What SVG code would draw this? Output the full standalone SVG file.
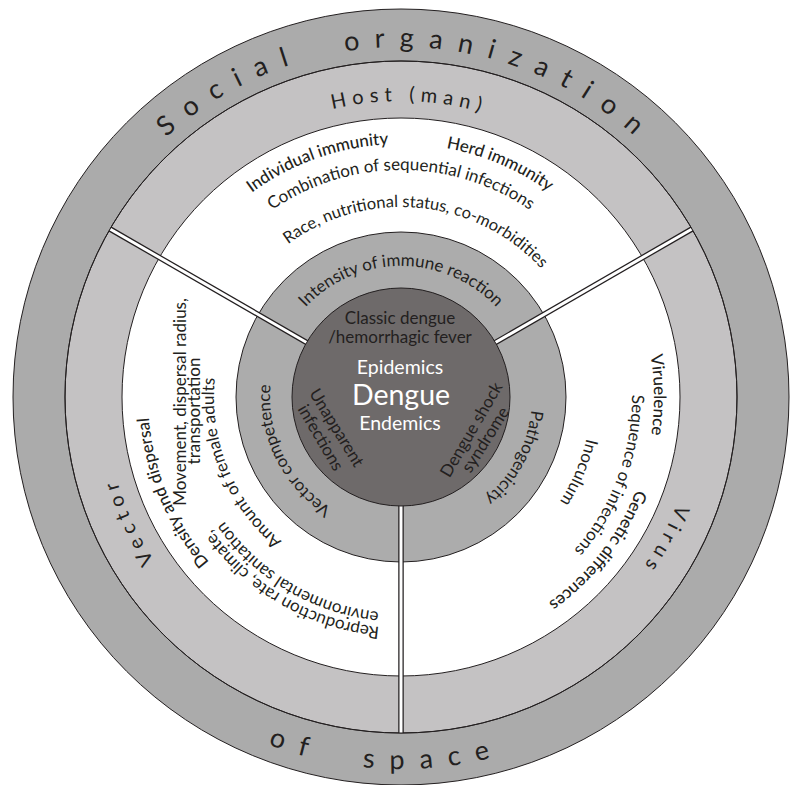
<svg xmlns="http://www.w3.org/2000/svg" width="790" height="785" viewBox="0 0 790 785">
<style>
text{font-family:Lato,"Noto Sans","Liberation Sans",sans-serif;fill:#231f20}
.ring{stroke:#231f20;stroke-width:1}
.big{font-size:27px;letter-spacing:15px;word-spacing:20px}
.lab{font-size:20px;letter-spacing:6px}
.t{font-size:17px}
.med{font-size:17px;font-weight:500}
.m{font-size:17px}
.core{font-size:17px}
.w{fill:#fff}
.bar1{stroke:#231f20;stroke-width:5.5}
.bar2{stroke:#fff;stroke-width:3}
</style>
<defs>
<path id="a350" d="M56.32,336.22 A350,350 0 0 1 745.68,336.22"/>
<path id="a296" d="M109.50,345.60 A296,296 0 0 1 692.50,345.60"/>
<path id="a253" d="M151.84,353.07 A253,253 0 0 1 650.16,353.07"/>
<path id="a231" d="M173.51,356.89 A231,231 0 0 1 628.49,356.89"/>
<path id="a227" d="M177.45,357.58 A227,227 0 0 1 624.55,357.58"/>
<path id="a216" d="M188.28,359.49 A216,216 0 0 1 613.72,359.49"/>
<path id="a190" d="M213.89,364.01 A190,190 0 0 1 588.11,364.01"/>
<path id="a187" d="M216.84,364.53 A187,187 0 0 1 585.16,364.53"/>
<path id="a131" d="M271.99,374.25 A131,131 0 0 1 530.01,374.25"/>
<path id="b372" d="M34.65,461.60 A372,372 0 0 0 767.35,461.60"/>
</defs>

<g id="social-organization">
<circle cx="401" cy="397" r="388" fill="#ababab" class="ring"/>
<text class="big" text-anchor="middle" transform="rotate(1 401 397)"><textPath href="#a350" startOffset="50%">Social organization</textPath></text>
<text class="big" text-anchor="middle" transform="rotate(2.3 401 397)" style="letter-spacing:15.5px"><textPath href="#b372" startOffset="50%">of space</textPath></text>
</g>

<g id="host-vector-virus-ring">
<circle cx="401" cy="397" r="336" fill="#c4c2c3" class="ring"/>
</g>

<g id="factors-ring">
<circle cx="401" cy="397" r="279" fill="#ffffff" class="ring"/>
</g>

<g id="immune-ring">
<circle cx="401" cy="397" r="165" fill="#acacac" class="ring"/>
</g>

<g id="dividers">
<line x1="401" y1="400" x2="401" y2="733" class="bar1"/>
<line x1="401" y1="400" x2="401" y2="733" class="bar2"/>
<line x1="401" y1="397" x2="110.02" y2="229" class="bar1"/>
<line x1="401" y1="397" x2="110.02" y2="229" class="bar2"/>
<line x1="401" y1="397" x2="691.98" y2="229" class="bar1"/>
<line x1="401" y1="397" x2="691.98" y2="229" class="bar2"/>
<circle cx="401" cy="397" r="336" fill="none" class="ring"/>
</g>

<g id="host">
<text class="lab" text-anchor="middle" transform="rotate(1.6 401 397)"><textPath href="#a296" startOffset="50%">Host (man)</textPath></text>
<text class="med" text-anchor="middle" transform="rotate(-19.5 401 397)"><textPath href="#a253" startOffset="50%">Individual immunity</textPath></text>
<text class="med" text-anchor="middle" transform="rotate(23 401 397)"><textPath href="#a253" startOffset="50%">Herd immunity</textPath></text>
<text class="t" text-anchor="middle"><textPath href="#a227" startOffset="50%">Combination of sequential infections</textPath></text>
<text class="t" text-anchor="middle" transform="rotate(5.5 401 397)" style="font-size:16.5px"><textPath href="#a190" startOffset="50%">Race, nutritional status, co-morbidities</textPath></text>
</g>

<g id="vector">
<text class="lab" text-anchor="middle" transform="rotate(245.5 401 397)"><textPath href="#a296" startOffset="50%">Vector</textPath></text>
<text class="med" text-anchor="middle" transform="rotate(247.3 401 397)"><textPath href="#a253" startOffset="50%">Density and dispersal</textPath></text>
<text class="t" text-anchor="middle" transform="translate(181 402) rotate(-90)" y="5">Movement, dispersal radius,</text>
<text class="t" text-anchor="middle" transform="translate(195 411) rotate(-90)" y="5">transportation</text>
<text class="t" text-anchor="middle" transform="rotate(247.7 401 397)"><textPath href="#a187" startOffset="50%">Amount of female adults</textPath></text>
<text class="t" text-anchor="middle" transform="rotate(210.2 401 397)"><textPath href="#a231" startOffset="50%">Reproduction rate, climate,</textPath></text>
<text class="t" text-anchor="middle" transform="rotate(210.4 401 397)"><textPath href="#a216" startOffset="50%">environmental sanitation</textPath></text>
</g>

<g id="virus">
<text class="lab" text-anchor="middle" transform="rotate(118.5 401 397)"><textPath href="#a296" startOffset="50%">Virus</textPath></text>
<text class="med" text-anchor="middle" transform="rotate(89.5 401 397)"><textPath href="#a253" startOffset="50%">Viruelence</textPath></text>
<text class="med" text-anchor="middle" transform="rotate(127.9 401 397)"><textPath href="#a253" startOffset="50%">Genetic differences</textPath></text>
<text class="t" text-anchor="middle" transform="rotate(110.5 401 397)"><textPath href="#a231" startOffset="50%">Sequence of infections</textPath></text>
<text class="t" text-anchor="middle" transform="rotate(113 401 397)"><textPath href="#a190" startOffset="50%">Inoculum</textPath></text>
</g>

<g id="immune-reaction">
<text class="m" text-anchor="middle"><textPath href="#a131" startOffset="50%">Intensity of immune reaction</textPath></text>
<text class="m" text-anchor="middle" transform="rotate(243.7 401 397)"><textPath href="#a131" startOffset="50%">Vector competence</textPath></text>
<text class="m" text-anchor="middle" transform="rotate(118 401 397)"><textPath href="#a131" startOffset="50%">Pathogenicity</textPath></text>
</g>

<g id="dengue">
<circle cx="401" cy="397" r="109" fill="#6e6a6a" class="ring"/>
<text class="core" text-anchor="middle" x="400" y="324">Classic dengue</text>
<text class="core" text-anchor="middle" x="400" y="343">/hemorrhagic fever</text>
<text class="w" text-anchor="middle" x="400" y="374" font-size="19.5">Epidemics</text>
<text class="w" text-anchor="middle" x="401" y="405" font-size="28.5">Dengue</text>
<text class="w" text-anchor="middle" x="400" y="430" font-size="19.5">Endemics</text>
<text class="core" text-anchor="middle" transform="translate(336 428) rotate(58.4)" y="5">Unapparent</text>
<text class="core" text-anchor="middle" transform="translate(320 438) rotate(59.7)" y="5">infections</text>
<text class="core" text-anchor="middle" transform="translate(472 430) rotate(-59.8)" y="5">Dengue shock</text>
<text class="core" text-anchor="middle" transform="translate(486 440) rotate(-57.7)" y="5">syndrome</text>
</g>
</svg>
